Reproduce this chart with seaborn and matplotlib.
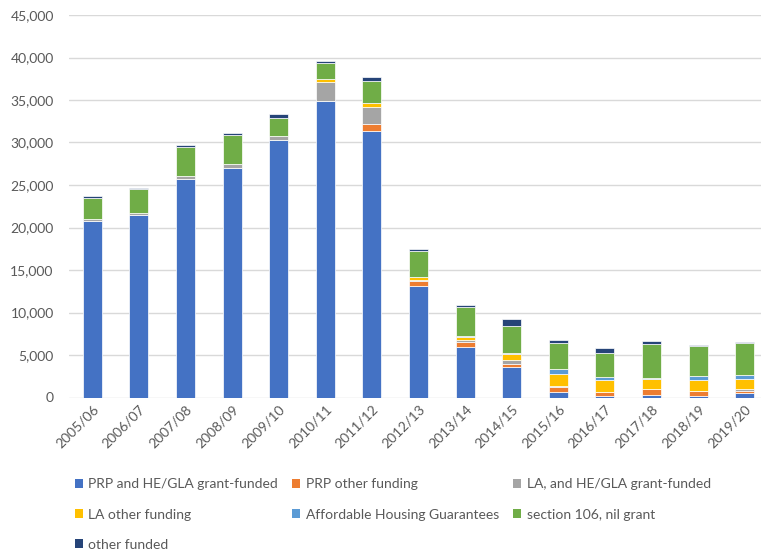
import numpy as np
import pandas as pd
import matplotlib
matplotlib.use("Agg")
import matplotlib.pyplot as plt
import seaborn as sns

years = ["2005/06", "2006/07", "2007/08", "2008/09", "2009/10", "2010/11", "2011/12",
         "2012/13", "2013/14", "2014/15", "2015/16", "2016/17", "2017/18", "2018/19", "2019/20"]

prp_grant = [20800, 21500, 25700, 27050, 30350, 34900, 31350, 13100, 5900, 3600, 700, 200, 300, 200, 550]
prp_other = [0, 0, 0, 0, 0, 0, 820, 620, 670, 390, 590, 390, 670, 540, 270]
la_grant = [200, 200, 380, 470, 390, 2230, 2000, 160, 190, 470, 120, 110, 80, 80, 200]
la_other = [0, 0, 0, 0, 0, 320, 510, 350, 400, 700, 1410, 1330, 1130, 1290, 1170]
ahg = [0, 0, 0, 0, 0, 0, 0, 0, 110, 120, 540, 430, 120, 390, 470]
s106 = [2500, 2800, 3400, 3370, 2160, 1920, 2510, 3010, 3370, 3130, 3090, 2740, 3950, 3600, 3790]
other = [160, 160, 190, 200, 510, 190, 470, 280, 190, 860, 280, 590, 390, 80, 120]

series = [
    ("PRP and HE/GLA grant-funded", prp_grant, "#4472C4"),
    ("PRP other funding", prp_other, "#ED7D31"),
    ("LA, and HE/GLA grant-funded", la_grant, "#A5A5A5"),
    ("LA other funding", la_other, "#FFC000"),
    ("Affordable Housing Guarantees", ahg, "#5B9BD5"),
    ("section 106, nil grant", s106, "#70AD47"),
    ("other funded", other, "#264478"),
]

sns.set_style("white")
plt.rcParams["font.family"] = ["Lato", "DejaVu Sans"]

W, H = 761, 553
fig = plt.figure(figsize=(W / 100, H / 100), dpi=100)
x0, x1 = 69, 761
y_top, y_zero = 15, 397.5
ax = fig.add_axes([x0 / W, 1 - y_zero / H, (x1 - x0) / W, (y_zero - y_top) / H])

# stack the series one on top of the other
bottom = np.zeros(len(years))
handles = {}
for name, vals, color in series:
    df = pd.DataFrame({"year": years, "value": vals})
    sns.barplot(data=df, x="year", y="value", order=years, color=color, saturation=1,
                bottom=bottom.copy(), width=0.41, edgecolor="white", linewidth=0.5,
                errorbar=None, ax=ax)
    handles[name] = plt.Rectangle((0, 0), 1, 1, facecolor=color, edgecolor="none")
    bottom += np.array(vals)

ax.set_ylim(0, 45000)
ax.set_xlim(-0.5, (x1 - x0) / 46.6 - 0.5)
ax.set_yticks(range(0, 45001, 5000))
ax.yaxis.set_major_formatter(matplotlib.ticker.FuncFormatter(lambda v, p: f"{int(v):,}"))
ax.grid(axis="y", color="#D9D9D9", linewidth=1)
ax.set_axisbelow(True)
for s in ax.spines.values():
    s.set_visible(False)
ax.set_xlabel("")
ax.set_ylabel("")
ax.tick_params(axis="y", length=0, pad=11, labelsize=10, labelcolor="#595959")
ax.tick_params(axis="x", length=0, pad=4, labelsize=10, labelcolor="#595959")
for lbl in ax.get_xticklabels():
    lbl.set_rotation(45)
    lbl.set_ha("right")
    lbl.set_rotation_mode("anchor")

# column-major order so rows read like the original legend
order = ["PRP and HE/GLA grant-funded", "LA other funding", "other funded",
         "PRP other funding", "Affordable Housing Guarantees",
         "LA, and HE/GLA grant-funded", "section 106, nil grant"]
leg = fig.legend([handles[n] for n in order], order, ncol=3, loc="upper left",
                 bbox_to_anchor=(62 / W, 1 - 466 / H), frameon=False,
                 fontsize=10, handlelength=0.6, handleheight=0.6, handletextpad=0.4,
                 columnspacing=1.0, labelspacing=1.3, labelcolor="#595959")

fig.savefig("out.png", dpi=100)
